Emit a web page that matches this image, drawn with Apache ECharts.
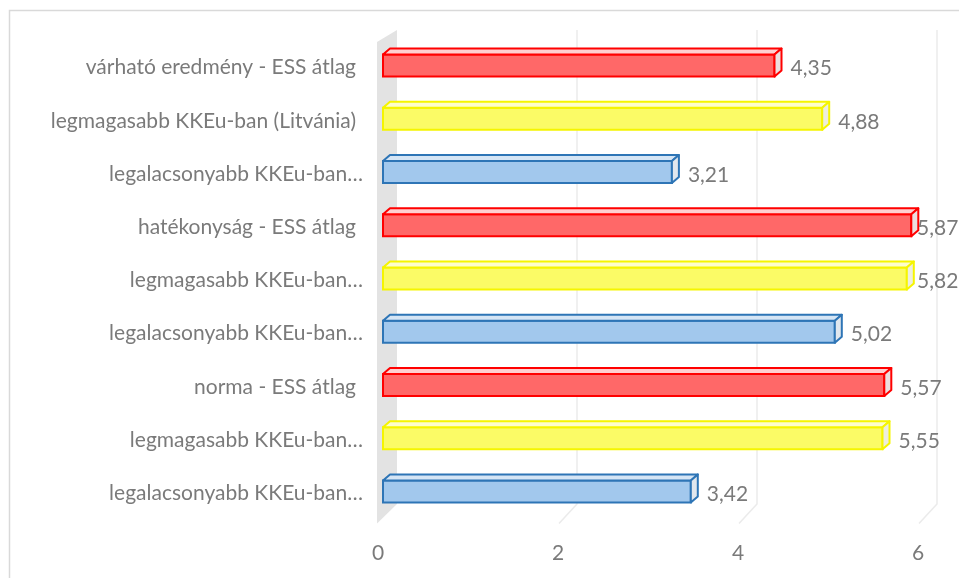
<!DOCTYPE html>
<html>
<head>
<meta charset="utf-8">
<script src="https://cdn.jsdelivr.net/npm/echarts@6/dist/echarts.min.js"></script>
<style>
  html, body { margin: 0; padding: 0; background: #ffffff; }
  #chart { width: 959px; height: 578px; }
</style>
</head>
<body>
<div id="chart"></div>
<script>
// Rows from top to bottom
const categories = [
  'várható eredmény - ESS átlag',
  'legmagasabb KKEu-ban (Litvánia)',
  'legalacsonyabb KKEu-ban…',
  'hatékonyság - ESS átlag',
  'legmagasabb KKEu-ban…',
  'legalacsonyabb KKEu-ban…',
  'norma - ESS átlag',
  'legmagasabb KKEu-ban…',
  'legalacsonyabb KKEu-ban…'
];
const values = [4.35, 4.88, 3.21, 5.87, 5.82, 5.02, 5.57, 5.55, 3.42];
// Group of each row: ESS average, highest in CEE, lowest in CEE
const rowGroups = ['avg', 'max', 'min', 'avg', 'max', 'min', 'avg', 'max', 'min'];
const xTicks = [0, 2, 4, 6];

const palette = {
  avg: { front: '#ff6868', top: '#ffcfcf', side: '#ecdede', edge: '#ff0000' },
  max: { front: '#fbfb66', top: '#fdfdcc', side: '#eeeedd', edge: '#f5f500' },
  min: { front: '#a2c8ed', top: '#d5e5f5', side: '#e1e7ee', edge: '#2e75b6' }
};
const textGrey = '#7a7a7a';
const FONT = 'Lato';
const FS = 21;

// 3D depth of boxes and walls
const DX = 7, DY = 6;

function fmt(v) { return v.toFixed(2).replace('.', ','); }

function renderWall(params, api) {
  const cs = params.coordSys;
  const v = api.value(0);
  const x = api.coord([v, 0])[0];
  const topY = cs.y - 11;
  const backY = cs.y + cs.height - 16;
  const frontY = cs.y + cs.height + 3.5;
  const children = [];
  if (v === 0) {
    children.push({
      type: 'polygon',
      shape: { points: [[x - 6, topY + 12], [x + 14, topY], [x + 14, backY], [x - 6, frontY]] },
      style: { fill: '#e3e3e3' }
    });
  } else {
    children.push({
      type: 'polyline',
      shape: { points: [[x + 14, topY], [x + 14, backY], [x - 4, frontY]] },
      style: { stroke: '#ebebeb', lineWidth: 1.5, fill: null }
    });
  }
  return { type: 'group', children: children };
}

function renderBar(params, api) {
  const v = api.value(0);
  const idx = api.value(1);
  const c = palette[rowGroups[params.dataIndex]];
  const p0 = api.coord([0, idx]);
  const p1 = api.coord([v, idx]);
  const x0 = p0[0], x1 = p1[0], yc = p0[1];
  const yt = yc - 13, yb = yc + 9;
  const lw = 2;
  const W = api.getWidth();
  const labelX = Math.min(x1 + 16, W - 42);
  return {
    type: 'group',
    children: [
      // hidden back edges, seen through the translucent box
      { type: 'polyline', shape: { points: [[x0 + DX, yt - DY], [x0 + DX, yb - DY], [x1 + DX, yb - DY]] },
        style: { stroke: c.edge, lineWidth: 1, opacity: 0.6, fill: null } },
      // front face
      { type: 'rect', shape: { x: x0, y: yt, width: x1 - x0, height: yb - yt },
        style: { fill: c.front, stroke: c.edge, lineWidth: lw } },
      // top face
      { type: 'polygon', shape: { points: [[x0, yt], [x0 + DX, yt - DY], [x1 + DX, yt - DY], [x1, yt]] },
        style: { fill: c.top, stroke: c.edge, lineWidth: lw, lineJoin: 'round' } },
      // right face
      { type: 'polygon', shape: { points: [[x1, yt], [x1 + DX, yt - DY], [x1 + DX, yb - DY], [x1, yb]] },
        style: { fill: c.side, stroke: c.edge, lineWidth: lw, lineJoin: 'round' } },
      // value label
      { type: 'text', x: labelX, y: yc + 1,
        style: { text: fmt(v), fill: textGrey, font: FS + 'px ' + FONT, textAlign: 'left', textVerticalAlign: 'middle' } }
    ]
  };
}

const chart = echarts.init(document.getElementById('chart'), null, { renderer: 'canvas' });

chart.setOption({
  animation: false,
  backgroundColor: '#ffffff',
  graphic: [{
    type: 'rect',
    shape: { x: 9.5, y: 10.5, width: 960, height: 580 },
    style: { fill: null, stroke: '#d9d9d9', lineWidth: 1.5 },
    z: 0
  }],
  grid: { left: 383, right: 36, top: 41, bottom: 58, containLabel: false },
  xAxis: {
    type: 'value', min: 0, max: 6, interval: 2,
    axisLine: { show: false }, axisTick: { show: false }, splitLine: { show: false },
    axisLabel: {
      color: textGrey, fontFamily: FONT, fontSize: FS, margin: 23,
      padding: [0, 10, 0, 0],
      formatter: function (v) { return xTicks.indexOf(v) >= 0 ? String(v) : ''; }
    }
  },
  yAxis: {
    type: 'category', data: categories, inverse: true,
    axisLine: { show: false }, axisTick: { show: false }, splitLine: { show: false },
    axisLabel: {
      color: textGrey, fontFamily: FONT, fontSize: FS, margin: 20,
      formatter: function (s) { return s.slice(-1) === '…' ? '{e|' + s + '}' : '{f|' + s + '}'; },
      rich: {
        e: { color: textGrey, fontFamily: FONT, fontSize: FS },
        f: { color: textGrey, fontFamily: FONT, fontSize: FS, padding: [0, 7, 0, 0] }
      }
    }
  },
  series: [
    {
      type: 'custom', name: 'walls', z: 1,
      renderItem: renderWall,
      data: xTicks.map(function (t) { return [t, 0]; }),
      silent: true
    },
    {
      type: 'custom', name: 'bars', z: 2,
      renderItem: renderBar,
      encode: { x: 0, y: 1 },
      data: values.map(function (v, i) { return [v, i]; })
    }
  ]
});
</script>
</body>
</html>
